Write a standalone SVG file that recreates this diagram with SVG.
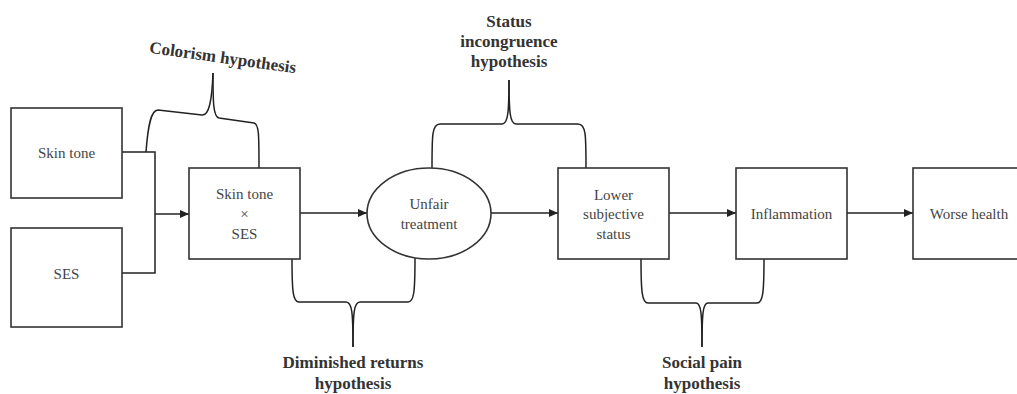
<svg xmlns="http://www.w3.org/2000/svg" width="1017" height="394" viewBox="0 0 1017 394">
<style>
.box{fill:#fff;stroke:#333;stroke-width:1.6}
.t{font-family:"Liberation Serif","DejaVu Serif",serif;font-size:15px;fill:#444;text-anchor:middle;dominant-baseline:central}
.lbl{font-family:"Liberation Serif","DejaVu Serif",serif;font-size:17px;font-weight:bold;fill:#333;text-anchor:middle}
.ln{fill:none;stroke:#222;stroke-width:1.5}
.br{fill:none;stroke:#222;stroke-width:1.5}
</style>
<defs>
<marker id="ah" markerWidth="9" markerHeight="8" refX="9" refY="4" orient="auto" markerUnits="userSpaceOnUse">
<path d="M0,0 L9,4 L0,8 Z" fill="#222"/>
</marker>
</defs>
<g id="connectors">
<path class="ln" d="M122,152 H155 V273 H122"/>
<path class="ln" d="M155,214 H189" marker-end="url(#ah)"/>
<path class="ln" d="M300,213 H367" marker-end="url(#ah)"/>
<path class="ln" d="M491,213 H558" marker-end="url(#ah)"/>
<path class="ln" d="M669,213 H736" marker-end="url(#ah)"/>
<path class="ln" d="M847,213 H913" marker-end="url(#ah)"/>
</g>
<g id="brace-colorism">
<path class="br" d="M146,152 C148,125 151,110 158,110 L202,115 C209,116 212,100 213,73"/>
<path class="br" d="M213,73 C213,100 213,117 219,118 L254,123 C259,124 259,135 259,168"/>
<text class="lbl" transform="translate(222,63) rotate(8)">Colorism hypothesis</text>
</g>
<g id="brace-status">
<path class="br" d="M432,168 C432,135 432,124 440,124 L502,124 C508,124 509,112 509,80"/>
<path class="br" d="M509,80 C509,112 510,124 516,124 L578,124 C586,124 586,135 586,168"/>
<text class="lbl" x="509" y="27">Status</text>
<text class="lbl" x="509" y="47">incongruence</text>
<text class="lbl" x="509" y="67">hypothesis</text>
</g>
<g id="brace-diminished">
<path class="br" d="M292,259 C292,292 293,302 299,302 L346,302 C352,302 353,312 353,347"/>
<path class="br" d="M353,347 C353,312 354,302 360,302 L408,302 C414,302 415,292 415,258"/>
<text class="lbl" x="353" y="368">Diminished returns</text>
<text class="lbl" x="353" y="389">hypothesis</text>
</g>
<g id="brace-social">
<path class="br" d="M641,259 C641,292 642,303 648,303 L696,303 C701,303 702,313 702,347"/>
<path class="br" d="M702,347 C702,313 703,303 708,303 L757,303 C763,303 764,292 764,259"/>
<text class="lbl" x="702" y="368">Social pain</text>
<text class="lbl" x="702" y="389">hypothesis</text>
</g>
<g id="node-skintone">
<rect class="box" x="11" y="108" width="111" height="90"/>
<text class="t" x="66.5" y="153">Skin tone</text>
</g>
<g id="node-ses">
<rect class="box" x="11" y="228" width="111" height="99"/>
<text class="t" x="66.5" y="274">SES</text>
</g>
<g id="node-interaction">
<rect class="box" x="189" y="168" width="111" height="91"/>
<text class="t" x="244.5" y="194">Skin tone</text>
<text class="t" x="244.5" y="214">×</text>
<text class="t" x="244.5" y="234">SES</text>
</g>
<g id="node-unfair">
<ellipse class="box" cx="429" cy="213.5" rx="62" ry="45.5"/>
<text class="t" x="429" y="204">Unfair</text>
<text class="t" x="429" y="224">treatment</text>
</g>
<g id="node-lower">
<rect class="box" x="558" y="168" width="111" height="91"/>
<text class="t" x="613.5" y="195">Lower</text>
<text class="t" x="613.5" y="214">subjective</text>
<text class="t" x="613.5" y="234">status</text>
</g>
<g id="node-inflammation">
<rect class="box" x="736" y="168" width="111" height="91"/>
<text class="t" x="791.5" y="214">Inflammation</text>
</g>
<g id="node-health">
<rect class="box" x="913" y="168" width="111" height="91"/>
<text class="t" x="969" y="214">Worse health</text>
</g>
</svg>
